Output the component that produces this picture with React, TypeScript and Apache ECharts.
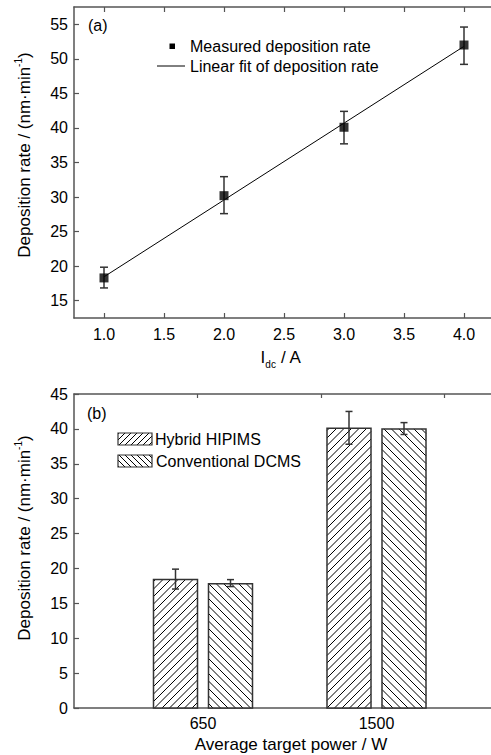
import React, { useEffect, useRef } from 'react';
import * as echarts from 'echarts';

// ---- Panel (a) data ----
const idc = [1, 2, 3, 4];
const rateMeasured = [18.3, 30.2, 40.1, 52.0];
const rateErrLow = [16.85, 27.6, 37.7, 49.2];
const rateErrHigh = [19.85, 32.95, 42.4, 54.6];
const fitX = [1, 4];
const fitY = [18.46, 51.81];
const idcTicks = [1, 1.5, 2, 2.5, 3, 3.5, 4];
const rateTicksA = [15, 20, 25, 30, 35, 40, 45, 50, 55];

// ---- Panel (b) data ----
const powers = ['650', '1500'];
const hybrid = [18.4, 40.1];
const hybridLow = [17.05, 37.8];
const hybridHigh = [19.9, 42.5];
const dcms = [17.8, 40.0];
const dcmsLow = [17.4, 39.2];
const dcmsHigh = [18.4, 40.9];

const FONT = 'Liberation Sans, Arial, Helvetica, sans-serif';
const AXIS_COLOR = '#555';
const BAR_W = 44;
const BAR_OFF = 27.5;

function hatch(x0: number, y0: number, x1: number, y1: number, step: number, dir: 1 | -1) {
  const segs: any[] = [];
  if (dir === 1) {
    const cStart = Math.ceil((x0 + y0) / step) * step;
    for (let c = cStart; c <= x1 + y1; c += step) {
      const xa = Math.max(x0, c - y1);
      const xb = Math.min(x1, c - y0);
      if (xb > xa) segs.push([xa, c - xa, xb, c - xb]);
    }
  } else {
    const cStart = Math.ceil((x0 - y1) / step) * step;
    for (let c = cStart; c <= x1 - y0; c += step) {
      const xa = Math.max(x0, c + y0);
      const xb = Math.min(x1, c + y1);
      if (xb > xa) segs.push([xa, xa - c, xb, xb - c]);
    }
  }
  return segs.map((s) => ({
    type: 'line',
    shape: { x1: s[0], y1: s[1], x2: s[2], y2: s[3] },
    style: { stroke: '#000', lineWidth: 1 },
    silent: true,
  }));
}

function hatchedRect(x0: number, y0: number, x1: number, y1: number, step: number, dir: 1 | -1, bw: number) {
  return [
    { type: 'rect', shape: { x: x0, y: y0, width: x1 - x0, height: y1 - y0 }, style: { fill: '#fff' } },
    ...hatch(x0, y0, x1, y1, step, dir),
    {
      type: 'rect',
      shape: { x: x0, y: y0, width: x1 - x0, height: y1 - y0 },
      style: { fill: 'none', stroke: '#333', lineWidth: bw },
    },
  ];
}

function errRender(cap: number, offset: number) {
  return (params: any, api: any) => {
    const x = api.value(0);
    const lo = api.coord([x, api.value(1)]);
    const hi = api.coord([x, api.value(2)]);
    const cx = lo[0] + offset;
    const st = { stroke: '#333', lineWidth: 1.5 };
    return {
      type: 'group',
      children: [
        { type: 'line', shape: { x1: cx, y1: lo[1], x2: cx, y2: hi[1] }, style: st },
        { type: 'line', shape: { x1: cx - cap / 2, y1: lo[1], x2: cx + cap / 2, y2: lo[1] }, style: st },
        { type: 'line', shape: { x1: cx - cap / 2, y1: hi[1], x2: cx + cap / 2, y2: hi[1] }, style: st },
      ],
    };
  };
}

function barRender(offset: number, dir: 1 | -1) {
  return (params: any, api: any) => {
    const ci = api.value(0);
    const top = api.coord([ci, api.value(1)]);
    const base = api.coord([ci, 0]);
    const cx = top[0] + offset;
    return {
      type: 'group',
      children: hatchedRect(cx - BAR_W / 2, top[1], cx + BAR_W / 2, base[1], 7.5, dir, 1.5),
    };
  };
}

export default function App() {
  const ref = useRef<HTMLDivElement>(null);
  useEffect(() => {
    if (!ref.current) return;
    const chart = echarts.init(ref.current, undefined, { renderer: 'svg' });
    const axisLine = { show: true, lineStyle: { color: AXIS_COLOR, width: 1.5 } };
    const tickStyle = { color: AXIS_COLOR, width: 1.2 };
    const lbl = { fontSize: 16, color: '#000', fontFamily: FONT };
    const yTitleRich = {
      a: { fontSize: 17, fontFamily: FONT, lineHeight: 20, verticalAlign: 'bottom' },
      s: { fontSize: 10, fontFamily: FONT, lineHeight: 20, verticalAlign: 'top', padding: [0, 0, 8, 0] },
    };

    const option: any = {
      animation: false,
      backgroundColor: '#fff',
      grid: [
        { left: 74, top: 7, width: 420, height: 311 },
        { left: 74, top: 394, width: 420, height: 314 },
        { left: 116.25, top: 394, width: 347, height: 314 },
      ],
      xAxis: [
        {
          gridIndex: 0, type: 'value', min: 0.75, max: 4.25, position: 'bottom',
          axisLine, splitLine: { show: false },
          axisTick: { show: true, inside: true, length: 5, lineStyle: tickStyle, customValues: idcTicks },
          axisLabel: { ...lbl, margin: 8, customValues: idcTicks, formatter: (v: number) => v.toFixed(1) },
        },
        {
          gridIndex: 0, type: 'value', min: 0.75, max: 4.25, position: 'top',
          axisLine, splitLine: { show: false },
          axisTick: { show: true, inside: true, length: 5, lineStyle: tickStyle, customValues: idcTicks },
          axisLabel: { show: false },
        },
        {
          gridIndex: 1, type: 'value', min: 0, max: 3.4, position: 'bottom',
          axisLine, splitLine: { show: false }, axisTick: { show: false }, axisLabel: { show: false },
        },
        {
          gridIndex: 1, type: 'value', min: 0, max: 3.4, position: 'top',
          axisLine, splitLine: { show: false },
          axisTick: { show: true, inside: true, length: 4, lineStyle: tickStyle, customValues: [1, 2, 3] },
          axisLabel: { show: false },
        },
        {
          gridIndex: 2, type: 'category', data: powers, position: 'bottom',
          axisLine: { show: false }, axisTick: { show: false }, splitLine: { show: false },
          axisLabel: { ...lbl, margin: 7 },
        },
      ],
      yAxis: [
        {
          gridIndex: 0, type: 'value', min: 12.5, max: 57.5, position: 'left',
          axisLine, splitLine: { show: false },
          axisTick: { show: true, inside: true, length: 5, lineStyle: tickStyle, customValues: rateTicksA },
          axisLabel: { ...lbl, margin: 6, customValues: rateTicksA },
        },
        {
          gridIndex: 1, type: 'value', min: 0, max: 45, interval: 5, position: 'left',
          axisLine, splitLine: { show: false },
          axisTick: { show: true, inside: true, length: 5, lineStyle: tickStyle },
          axisLabel: { ...lbl, margin: 6 },
        },
        { gridIndex: 2, type: 'value', min: 0, max: 45, show: false },
      ],
      series: [
        {
          type: 'line', xAxisIndex: 0, yAxisIndex: 0,
          data: fitX.map((x, i) => [x, fitY[i]]),
          showSymbol: false, symbol: 'none',
          lineStyle: { color: '#000', width: 1 }, z: 2,
        },
        {
          type: 'custom', xAxisIndex: 0, yAxisIndex: 0,
          data: idc.map((x, i) => [x, rateErrLow[i], rateErrHigh[i]]),
          renderItem: errRender(8, 0), z: 3,
        },
        {
          type: 'scatter', xAxisIndex: 0, yAxisIndex: 0,
          data: idc.map((x, i) => [x, rateMeasured[i]]),
          symbol: 'rect', symbolSize: 9, itemStyle: { color: '#000' }, z: 4,
        },
        {
          type: 'custom', xAxisIndex: 4, yAxisIndex: 2,
          data: powers.map((_, i) => [i, hybrid[i]]),
          renderItem: barRender(-BAR_OFF, 1), z: 2,
        },
        {
          type: 'custom', xAxisIndex: 4, yAxisIndex: 2,
          data: powers.map((_, i) => [i, dcms[i]]),
          renderItem: barRender(BAR_OFF, -1), z: 2,
        },
        {
          type: 'custom', xAxisIndex: 4, yAxisIndex: 2,
          data: powers.map((_, i) => [i, hybridLow[i], hybridHigh[i]]),
          renderItem: errRender(7, -BAR_OFF), z: 3,
        },
        {
          type: 'custom', xAxisIndex: 4, yAxisIndex: 2,
          data: powers.map((_, i) => [i, dcmsLow[i], dcmsHigh[i]]),
          renderItem: errRender(7, BAR_OFF), z: 3,
        },
      ],
      graphic: [
        { type: 'text', x: 88, y: 25, style: { text: '(a)', fontSize: 16, fontFamily: FONT, fill: '#000', verticalAlign: 'middle' } },
        { type: 'text', x: 87, y: 413, style: { text: '(b)', fontSize: 16, fontFamily: FONT, fill: '#000', verticalAlign: 'middle' } },
        { type: 'rect', shape: { x: 169.5, y: 43.5, width: 5.5, height: 5.5 }, style: { fill: '#000' } },
        { type: 'text', x: 190, y: 46, style: { text: 'Measured deposition rate', fontSize: 16, fontFamily: FONT, fill: '#000', verticalAlign: 'middle' } },
        { type: 'line', shape: { x1: 157, y1: 66, x2: 185, y2: 66 }, style: { stroke: '#000', lineWidth: 1 } },
        { type: 'text', x: 190, y: 66, style: { text: 'Linear fit of deposition rate', fontSize: 16, fontFamily: FONT, fill: '#000', verticalAlign: 'middle' } },
        { type: 'group', children: hatchedRect(118, 433, 152, 445, 6, 1, 1.2) },
        { type: 'text', x: 155, y: 439, style: { text: 'Hybrid HIPIMS', fontSize: 16, fontFamily: FONT, fill: '#000', verticalAlign: 'middle' } },
        { type: 'group', children: hatchedRect(118, 455, 152, 467, 6, -1, 1.2) },
        { type: 'text', x: 156, y: 461, style: { text: 'Conventional DCMS', fontSize: 16, fontFamily: FONT, fill: '#000', verticalAlign: 'middle' } },
        {
          type: 'text', x: 23, y: 155, rotation: Math.PI / 2,
          style: {
            text: '{a|Deposition rate / (nm·min}{s|-1}{a|)}',
            align: 'center', verticalAlign: 'middle', fill: '#000', rich: yTitleRich,
          },
        },
        {
          type: 'text', x: 23, y: 538, rotation: Math.PI / 2,
          style: {
            text: '{a|Deposition rate / (nm·min}{s|-1}{a|)}',
            align: 'center', verticalAlign: 'middle', fill: '#000', rich: yTitleRich,
          },
        },
        {
          type: 'text', x: 281, y: 359,
          style: {
            text: '{a|I}{s|dc}{a| / A}',
            align: 'center', verticalAlign: 'middle', fill: '#000',
            rich: {
              a: { fontSize: 17, fontFamily: FONT, lineHeight: 20, verticalAlign: 'top' },
              s: { fontSize: 10, fontFamily: FONT, lineHeight: 20, verticalAlign: 'bottom', padding: [8, 0, 0, 0] },
            },
          },
        },
        {
          type: 'text', x: 291, y: 744,
          style: { text: 'Average target power / W', fontSize: 17, fontFamily: FONT, fill: '#000', align: 'center', verticalAlign: 'middle' },
        },
      ],
    };
    chart.setOption(option);
    return () => chart.dispose();
  }, []);

  return (
    <div style={{ position: 'absolute', left: 0, top: 0, width: 491, height: 755, overflow: 'hidden', background: '#fff' }}>
      <div ref={ref} style={{ width: 500, height: 755 }} />
    </div>
  );
}
